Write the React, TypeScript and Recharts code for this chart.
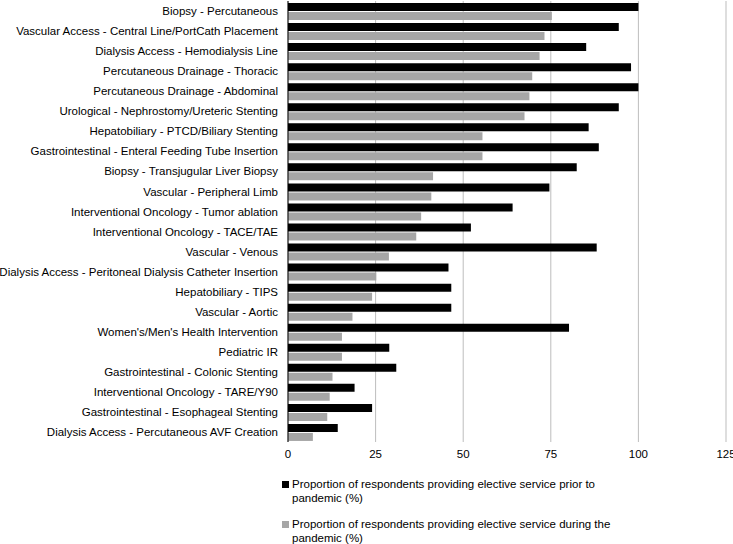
import React from "react";
import { BarChart, Bar, XAxis, YAxis, CartesianGrid, Legend } from "recharts";

const categories = [
  "Biopsy - Percutaneous",
  "Vascular Access - Central Line/PortCath Placement",
  "Dialysis Access - Hemodialysis Line",
  "Percutaneous Drainage - Thoracic",
  "Percutaneous Drainage - Abdominal",
  "Urological - Nephrostomy/Ureteric Stenting",
  "Hepatobiliary - PTCD/Biliary Stenting",
  "Gastrointestinal - Enteral Feeding Tube Insertion",
  "Biopsy - Transjugular Liver Biopsy",
  "Vascular - Peripheral Limb",
  "Interventional Oncology - Tumor ablation",
  "Interventional Oncology - TACE/TAE",
  "Vascular - Venous",
  "Dialysis Access - Peritoneal Dialysis Catheter Insertion",
  "Hepatobiliary - TIPS",
  "Vascular - Aortic",
  "Women's/Men's Health Intervention",
  "Pediatric IR",
  "Gastrointestinal - Colonic Stenting",
  "Interventional Oncology - TARE/Y90",
  "Gastrointestinal - Esophageal Stenting",
  "Dialysis Access - Percutaneous AVF Creation",
];

const priorValues = [
  100, 94.4, 85.1, 97.9, 100, 94.4, 85.8, 88.7, 82.4, 74.6, 64.1, 52.2, 88.1,
  45.8, 46.6, 46.6, 80.2, 28.9, 30.9, 19.0, 24.0, 14.2,
];

const duringValues = [
  75.3, 73.2, 71.8, 69.7, 68.9, 67.5, 55.5, 55.5, 41.4, 40.9, 38.0, 36.6, 28.8,
  25.2, 24.0, 18.4, 15.4, 15.4, 12.7, 11.9, 11.2, 7.1,
];

const xTicks = [0, 25, 50, 75, 100, 125];

const seriesNames = [
  "Proportion of respondents providing elective service prior to pandemic (%)",
  "Proportion of respondents providing elective service during the pandemic (%)",
];

const data = categories.map((name, i) => ({
  name,
  prior: priorValues[i],
  during: duringValues[i],
}));

const FONT = "'Liberation Sans', Arial, sans-serif";

const YTick = (props: any) => {
  const { x, y, payload } = props;
  return (
    <text
      x={x}
      y={y}
      dy="0.355em"
      textAnchor="end"
      fontFamily={FONT}
      fontSize={11.5}
      fill="#000"
    >
      {payload.value}
    </text>
  );
};

const LegendContent = () => {
  const colors = ["#000000", "#a6a6a6"];
  return (
    <div style={{ fontFamily: FONT, fontSize: 11.5, color: "#000", width: 330 }}>
      {seriesNames.map((n, i) => (
        <div
          key={n}
          style={{ display: "flex", alignItems: "flex-start", marginBottom: 13, lineHeight: "13.5px" }}
        >
          <span
            style={{
              display: "inline-block",
              width: 7,
              height: 7,
              background: colors[i],
              marginTop: 3,
              marginRight: 3,
              flexShrink: 0,
            }}
          />
          <span>{n}</span>
        </div>
      ))}
    </div>
  );
};

export default function App() {
  return (
    <div style={{ position: "absolute", left: 0, top: 0, background: "#fff" }}>
      <BarChart
        width={733}
        height={544}
        data={data}
        layout="vertical"
        margin={{ top: 1, right: 7, left: 0, bottom: 72 }}
        barSize={8}
        barGap={1}
      >
        <CartesianGrid horizontal={false} stroke="#bdbdbd" strokeWidth={1} />
        <XAxis
          type="number"
          domain={[0, 125]}
          ticks={xTicks}
          axisLine={false}
          tickLine={false}
          tick={{ fontFamily: FONT, fontSize: 11.5, fill: "#000" }}
          interval={0}
        />
        <YAxis
          type="category"
          dataKey="name"
          width={288}
          axisLine={{ stroke: "#000", strokeWidth: 1 }}
          tickLine={false}
          tickMargin={4}
          interval={0}
          tick={<YTick />}
        />
        <Legend
          layout="vertical"
          align="center"
          verticalAlign="middle"
          content={<LegendContent />}
          wrapperStyle={{ left: 282, top: 478, width: 340 }}
        />
        <Bar dataKey="prior" name={seriesNames[0]} fill="#000000" isAnimationActive={false} />
        <Bar dataKey="during" name={seriesNames[1]} fill="#a6a6a6" isAnimationActive={false} />
      </BarChart>
    </div>
  );
}
